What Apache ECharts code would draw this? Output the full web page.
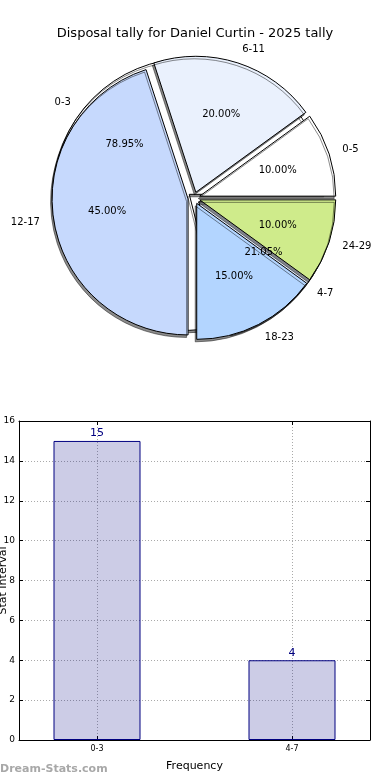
<!DOCTYPE html>
<html>
<head>
<meta charset="utf-8">
<script src="https://cdn.jsdelivr.net/npm/echarts@6/dist/echarts.min.js"></script>
<style>
html,body{margin:0;padding:0;background:#fff;}
#c{width:390px;height:780px;}
</style>
</head>
<body>
<div id="c"></div>
<script>
const chartTitle = 'Disposal tally for Daniel Curtin - 2025 tally';
const ageCategories = ['0-5', '6-11', '12-17', '18-23', '24-29'];
const ageValues = [2, 4, 9, 3, 2];
const freqCategories = ['0-3', '4-7'];
const freqValues = [15, 4];
const yAxisName = 'Stat Interval';
const xAxisName = 'Frequency';
const watermark = 'Dream-Stats.com';

const ageColors = ['#ffffff', '#eaf1fd', '#c6d9fd', '#b3d5ff', '#cfeb8b'];
const freqColors = ['#ffffff', '#eaf1fd'];

const FONT = 'DejaVu Sans';
const CENTER = [194, 198];
const R = 136;
const OFFSET = 6;

function pieData(cats, vals, colors, transparent) {
  return cats.map((c, i) => ({
    name: c, value: vals[i], selected: true,
    itemStyle: transparent ? { color: 'rgba(0,0,0,0)', borderWidth: 0, shadowColor: 'rgba(0,0,0,0)' } : { color: colors[i] }
  }));
}
function namePie(cats, vals, colors, z) {
  return {
    type: 'pie', z: z, silent: true, center: CENTER, radius: R,
    startAngle: 0, clockwise: false, selectedMode: 'multiple', selectedOffset: OFFSET,
    avoidLabelOverlap: false, emphasis: { disabled: true },
    itemStyle: { borderColor: '#000', borderWidth: 1, shadowColor: 'rgba(0,0,0,0.45)', shadowOffsetX: -1.5, shadowOffsetY: 2.5, shadowBlur: 0 },
    label: { show: true, position: 'outside', formatter: '{b}', fontFamily: FONT, fontSize: 10, color: '#000', distanceToLabelLine: 0 },
    labelLine: { show: false, length: 14, length2: 0 },
    data: pieData(cats, vals, colors, false)
  };
}
function pctPie(cats, vals, z) {
  return {
    type: 'pie', z: z, silent: true, center: CENTER, radius: 158,
    startAngle: 0, clockwise: false, selectedMode: 'multiple', selectedOffset: OFFSET,
    avoidLabelOverlap: false, emphasis: { disabled: true },
    label: { show: true, position: 'inside', formatter: p => p.percent.toFixed(2) + '%', fontFamily: FONT, fontSize: 10, color: '#000' },
    labelLine: { show: false },
    data: pieData(cats, vals, null, true)
  };
}

const chart = echarts.init(document.getElementById('c'), null, { renderer: 'canvas' });
chart.setOption({
  animation: false,
  backgroundColor: '#fff',
  title: {
    text: chartTitle, left: 'center', top: 22,
    textStyle: { fontFamily: FONT, fontSize: 13, fontWeight: 'normal', color: '#000' }
  },
  graphic: [{
    type: 'text', left: 0, top: 764,
    style: { text: watermark, fontFamily: FONT, fontSize: 11, fontWeight: 'bold', fill: '#a8a8a8' }
  }],
  grid: { left: 19, right: 20, top: 421, bottom: 40, containLabel: false, outerBoundsMode: 'none', show: false },
  xAxis: [{
    type: 'value', min: -0.4, max: 1.4, position: 'bottom',
    name: xAxisName, nameLocation: 'middle', nameGap: 21, nameMoveOverlap: false,
    nameTextStyle: { fontFamily: FONT, fontSize: 11, color: '#000' },
    axisLine: { show: true, onZero: false, lineStyle: { color: '#000', width: 1 } },
    axisTick: { show: true, inside: true, length: 4, customValues: [0, 1], lineStyle: { color: '#000' } },
    axisLabel: { show: true, customValues: [0, 1], formatter: v => freqCategories[Math.round(v)] || '', fontFamily: FONT, fontSize: 8, color: '#000', margin: 5 },
    splitLine: { show: true, lineStyle: { color: '#aaa', type: [1, 2], width: 1 } }
  }, {
    type: 'value', min: -0.4, max: 1.4, position: 'top',
    axisLine: { show: true, onZero: false, lineStyle: { color: '#000', width: 1 } },
    axisTick: { show: true, inside: true, length: 4, customValues: [0, 1], lineStyle: { color: '#000' } },
    axisLabel: { show: false }, splitLine: { show: false }
  }],
  yAxis: [{
    type: 'value', min: 0, max: 16, interval: 2, position: 'left',
    name: yAxisName, nameLocation: 'middle', nameGap: 10, nameRotate: 90, nameMoveOverlap: false,
    nameTextStyle: { fontFamily: FONT, fontSize: 11, color: '#000' },
    axisLine: { show: true, onZero: false, lineStyle: { color: '#000', width: 1 } },
    axisTick: { show: true, inside: true, length: 4, lineStyle: { color: '#000' } },
    axisLabel: { fontFamily: FONT, fontSize: 9, color: '#000', margin: 4 },
    splitLine: { show: true, lineStyle: { color: '#aaa', type: [1, 2], width: 1 } }
  }, {
    type: 'value', min: 0, max: 16, interval: 2, position: 'right',
    axisLine: { show: true, onZero: false, lineStyle: { color: '#000', width: 1 } },
    axisTick: { show: true, inside: true, length: 4, lineStyle: { color: '#000' } },
    axisLabel: { show: false }, splitLine: { show: false }
  }],
  series: [
    namePie(freqCategories, freqValues, freqColors, 1),
    namePie(ageCategories, ageValues, ageColors, 2),
    pctPie(freqCategories, freqValues, 5),
    pctPie(ageCategories, ageValues, 5),
    {
      type: 'bar', xAxisIndex: 0, yAxisIndex: 0, silent: true,
      barWidth: 87,
      itemStyle: { color: 'rgba(0,0,128,0.2)', borderColor: '#000080', borderWidth: 1 },
      label: { show: true, position: 'top', distance: 2, fontFamily: FONT, fontSize: 11, color: '#000080', formatter: p => String(p.value[1]) },
      data: freqValues.map((v, i) => [i, v])
    }
  ]
});
</script>
</body>
</html>
